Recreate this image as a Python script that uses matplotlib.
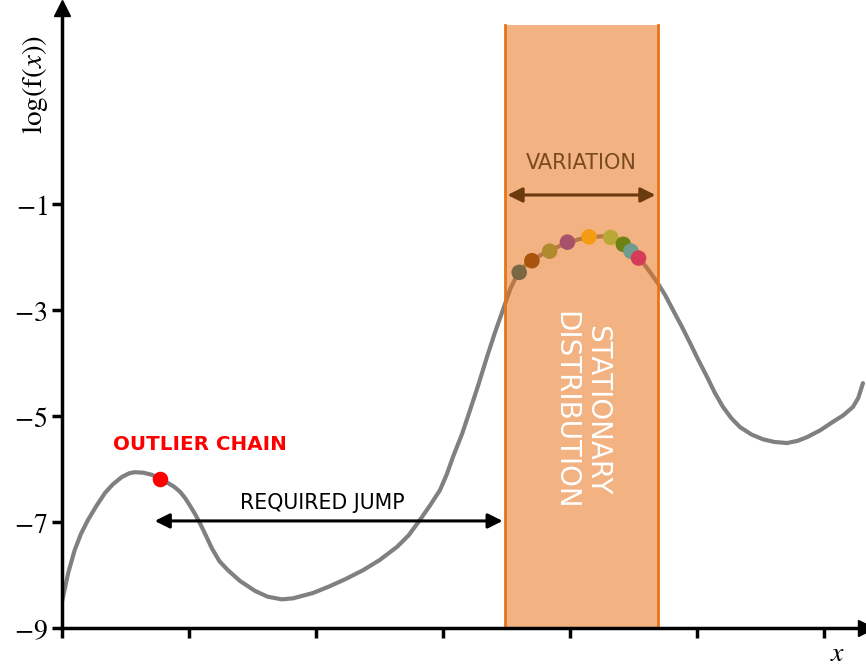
import matplotlib
matplotlib.use("Agg")
import matplotlib.pyplot as plt

# log density curve, read point by point
curve_x = [0.0, 0.05, 0.10, 0.15, 0.205, 0.27, 0.339, 0.40, 0.472, 0.53, 0.575, 0.64, 0.709,
           0.772, 0.83, 0.88, 0.93, 0.97, 1.01, 1.05, 1.09, 1.13, 1.181, 1.24, 1.307, 1.40, 1.52,
           1.62, 1.732, 1.82, 1.913, 1.976, 2.10, 2.23, 2.37, 2.50, 2.638, 2.73, 2.819, 2.90,
           2.976, 3.03, 3.079, 3.15, 3.213, 3.28, 3.346, 3.41, 3.472, 3.53, 3.591, 3.65, 3.717,
           3.78, 3.85, 3.92, 3.992, 4.08, 4.165, 4.25, 4.331, 4.39, 4.433, 4.488, 4.543, 4.61,
           4.685, 4.75, 4.811, 4.88, 4.945, 5.01, 5.079, 5.14, 5.205, 5.27, 5.339, 5.43, 5.52,
           5.61, 5.709, 5.79, 5.866, 5.97, 6.071, 6.15, 6.228, 6.27, 6.307]
curve_y = [-8.50, -7.95, -7.53, -7.22, -6.96, -6.70, -6.45, -6.29, -6.15, -6.08, -6.06, -6.07, -6.11,
           -6.19, -6.26, -6.33, -6.43, -6.55, -6.70, -6.86, -7.04, -7.24, -7.50, -7.74, -7.91, -8.11, -8.30,
           -8.41, -8.46, -8.44, -8.38, -8.34, -8.22, -8.08, -7.91, -7.72, -7.47, -7.25, -6.96, -6.68,
           -6.40, -6.10, -5.77, -5.34, -4.89, -4.40, -3.89, -3.42, -3.00, -2.60, -2.30, -2.15, -2.04,
           -1.95, -1.87, -1.79, -1.72, -1.66, -1.625, -1.61, -1.625, -1.68, -1.75, -1.87, -2.01, -2.22,
           -2.47, -2.72, -3.00, -3.31, -3.62, -3.94, -4.26, -4.56, -4.83, -5.04, -5.21, -5.35, -5.44,
           -5.49, -5.51, -5.47, -5.40, -5.27, -5.11, -4.99, -4.83, -4.66, -4.38]

# samples of the chains sitting on the mode
chain_x = [3.60, 3.70, 3.84, 3.98, 4.15, 4.32, 4.42, 4.48, 4.54]
chain_y = [-2.29, -2.07, -1.89, -1.72, -1.62, -1.63, -1.76, -1.89, -2.02]
chain_colors = ["#7a6844", "#a8540c", "#b08a2e", "#a8516a", "#f39c12",
                "#b9a836", "#6f8015", "#6f9c8c", "#d63b58"]

outlier_x = [0.772]
outlier_y = [-6.19]

band_lo, band_hi = 3.488, 4.693
yticks = [-9, -7, -5, -3, -1]
xticks = [0, 1, 2, 3, 4, 5, 6]

plt.rcParams["mathtext.fontset"] = "stix"

fig = plt.figure(figsize=(8.66, 6.66), dpi=100)
ax = fig.add_axes([62 / 866, 38 / 666, 804 / 866, 620 / 666])
ax.set_xlim(0, 6.331)
ax.set_ylim(-9, 2.698)

ax.plot(curve_x, curve_y, color="#808080", lw=3, solid_capstyle="round",
        solid_joinstyle="round", zorder=2)

# stationary band drawn over the curve
ax.axvspan(band_lo, band_hi, ymin=0, ymax=(2.38 + 9) / 11.698,
           facecolor="#e8741a", alpha=0.55, lw=0, zorder=3)
for bx in (band_lo, band_hi):
    ax.plot([bx, bx], [-9, 2.38], color="#e8741a", lw=2, zorder=4)

ax.scatter(chain_x, chain_y, s=125, c=chain_colors, zorder=6, linewidths=0)
ax.scatter(outlier_x, outlier_y, s=125, c="red", zorder=6, linewidths=0)

# arrows
ax.annotate("", xy=(band_lo + 0.02, -0.83), xytext=(band_hi - 0.02, -0.83),
            arrowprops=dict(arrowstyle="<|-|>", color="#6b3a0e", lw=2.2,
                            mutation_scale=22, shrinkA=0, shrinkB=0), zorder=5)
ax.text((band_lo + band_hi) / 2, -0.23, "VARIATION", color="#7a4a1e",
        fontsize=15, ha="center", va="center", zorder=5)

ax.annotate("", xy=(0.73, -6.98), xytext=(3.47, -6.98),
            arrowprops=dict(arrowstyle="<|-|>", color="black", lw=2.2,
                            mutation_scale=22, shrinkA=0, shrinkB=0), zorder=5)
ax.text(2.05, -6.64, "REQUIRED JUMP", fontsize=14.8, ha="center", va="center")

ax.text(1.087, -5.53, "OUTLIER CHAIN", color="red", fontsize=14.3,
        fontweight="bold", ha="center", va="center")

ax.text(4.09, -4.89, "STATIONARY\nDISTRIBUTION", color="white", fontsize=20,
        rotation=-90, ha="center", va="center", linespacing=1.2, zorder=5)

# axes with arrow heads
for side in ("top", "right"):
    ax.spines[side].set_visible(False)
for side in ("left", "bottom"):
    ax.spines[side].set_linewidth(2.5)
    ax.spines[side].set_zorder(7)
ax.plot(0, 1, "^k", ms=11, transform=ax.transAxes, clip_on=False, zorder=8)
ax.plot(1, 0, ">k", ms=11, transform=ax.transAxes, clip_on=False, zorder=8)

ax.set_xticks(xticks)
ax.set_xticklabels([])
ax.set_yticks(yticks)
ax.set_yticklabels([f"$-{abs(t)}$" for t in yticks])
ax.tick_params(direction="out", length=7, width=2.5, labelsize=20)

ax.text(-0.0336, 0.876, r"$\mathrm{log(f(}x\mathrm{))}$", transform=ax.transAxes,
        rotation=90, fontsize=21, ha="center", va="center")
ax.text(0.965, -0.04, r"$x$", transform=ax.transAxes, fontsize=20,
        ha="center", va="center")

fig.savefig("out.png", dpi=100)
